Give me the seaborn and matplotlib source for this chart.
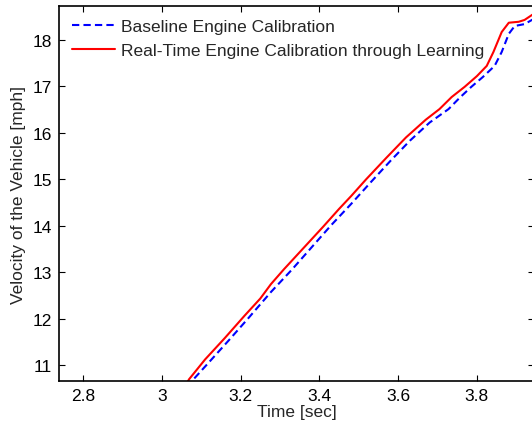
import matplotlib
matplotlib.use('Agg')
import matplotlib.pyplot as plt
import seaborn as sns
import pandas as pd

# values
base_t = [3.068, 3.076, 3.12, 3.17, 3.22, 3.277, 3.33, 3.38, 3.43, 3.481, 3.53, 3.58, 3.63, 3.68,
          3.728, 3.757, 3.786, 3.815, 3.845, 3.863, 3.881, 3.896, 3.921, 3.944, 3.96]
base_v = [10.5, 10.65, 11.06, 11.53, 12.01, 12.57, 13.05, 13.53, 14.01, 14.47, 14.93, 15.39, 15.83, 16.22,
          16.51, 16.76, 16.99, 17.2, 17.44, 17.74, 18.13, 18.30, 18.34, 18.45, 18.52]
rt_t = [3.06, 3.069, 3.11, 3.16, 3.21, 3.25, 3.277, 3.31, 3.36, 3.41, 3.45, 3.481, 3.519, 3.57, 3.62,
        3.67, 3.705, 3.736, 3.769, 3.80, 3.825, 3.842, 3.863, 3.881, 3.906, 3.921, 3.944, 3.96]
rt_v = [10.55, 10.69, 11.12, 11.58, 12.06, 12.43, 12.74, 13.06, 13.52, 13.98, 14.36, 14.64, 15.0, 15.46, 15.9,
        16.28, 16.51, 16.77, 16.99, 17.22, 17.44, 17.74, 18.17, 18.37, 18.39, 18.43, 18.56, 18.64]

labels = ['Baseline Engine Calibration', 'Real-Time Engine Calibration through Learning']

df = pd.concat([
    pd.DataFrame({'t': base_t, 'v': base_v, 'run': labels[0]}),
    pd.DataFrame({'t': rt_t, 'v': rt_v, 'run': labels[1]}),
])

sns.set_style('ticks')
plt.rcParams['font.family'] = ['Liberation Sans', 'DejaVu Sans']
fs = 12.5

fig = plt.figure(figsize=(5.32, 4.27), dpi=100)
ax = fig.add_axes([59 / 532, 1 - 382 / 427, 475 / 532, 375 / 427])

sns.lineplot(data=df, x='t', y='v', hue='run', style='run',
             palette={labels[0]: 'blue', labels[1]: 'red'},
             dashes={labels[0]: (3.5, 2), labels[1]: ''},
             linewidth=1.5, sort=False, estimator=None, ax=ax)

ax.set_xlim(2.739, 3.945)
ax.set_ylim(10.655, 18.73)
ax.set_xticks([2.8, 3.0, 3.2, 3.4, 3.6, 3.8])
ax.set_xticklabels(['2.8', '3', '3.2', '3.4', '3.6', '3.8'])
ax.set_yticks(range(11, 19))
ax.tick_params(direction='in', length=4, width=0.8, top=True, right=True, colors='black',
               labelsize=fs, pad=5)
for s in ax.spines.values():
    s.set_linewidth(1.2)
    s.set_color('black')

ax.set_xlabel('Time [sec]', fontsize=fs, labelpad=1)
ax.set_ylabel('Velocity of the Vehicle [mph]', fontsize=fs, labelpad=5)

leg = ax.legend(loc='upper left', frameon=False, fontsize=fs, handlelength=2.5,
                handletextpad=0.3, borderaxespad=0.35, labelspacing=0.5)

fig.savefig('out.png', dpi=100)
